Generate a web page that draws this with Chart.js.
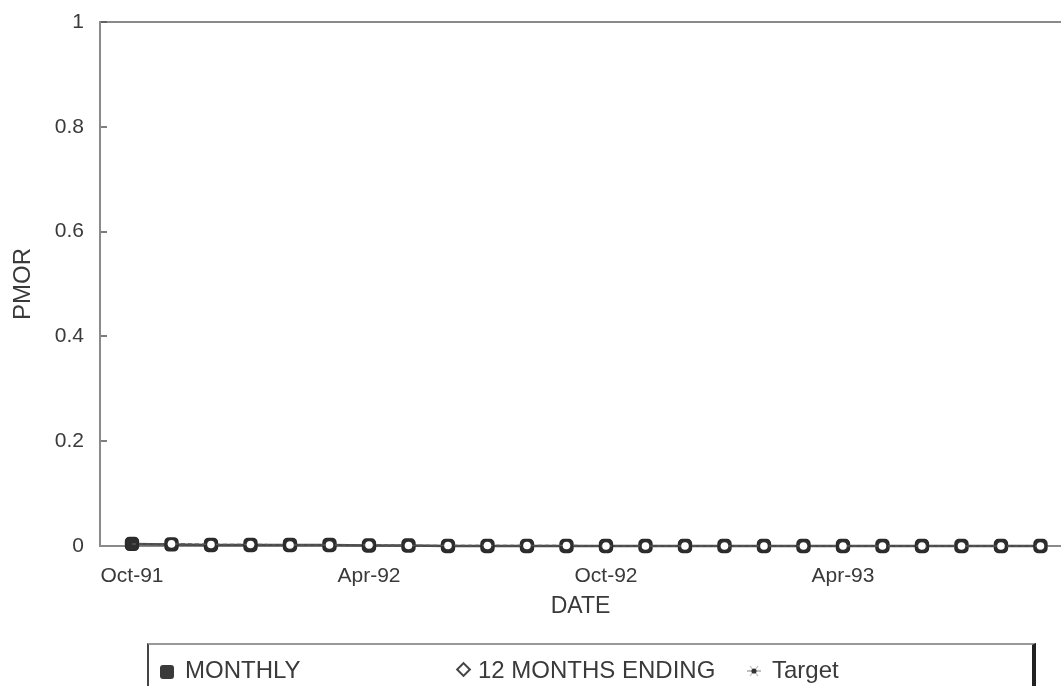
<!DOCTYPE html>
<html>
<head>
<meta charset="utf-8">
<script src="https://cdn.jsdelivr.net/npm/chart.js@4.4.1/dist/chart.umd.min.js"></script>
<style>
  html, body { margin: 0; padding: 0; background: #fff; }
  #wrap { position: relative; width: 1061px; height: 686px; overflow: hidden; }
  canvas { position: absolute; left: 0; top: 0; }
  #legend {
    position: absolute; left: 147px; top: 643px; width: 883px; height: 60px;
    border-top: 2px solid #999; border-left: 2px solid #444; border-right: 4px solid #222;
    font-family: "Liberation Sans", Arial, sans-serif; font-size: 24px; color: #3a3a3a;
  }
  .item { position: absolute; top: 12px; white-space: nowrap; line-height: 26px; }
  .sq { display: inline-block; width: 14px; height: 14px; background: #3a3a3a; border-radius: 3px; vertical-align: -1px; margin-right: 11px; }
  .dia { display: inline-block; width: 7px; height: 7px; border: 2px solid #444; background: #fff; transform: rotate(45deg); vertical-align: 3px; margin-right: 9px; margin-left: 2px; }
  .tg { display: inline-block; vertical-align: 0px; margin-right: 10px; }
</style>
</head>
<body>
<div id="wrap">
  <canvas id="c" width="1061" height="686"></canvas>
  <div id="legend">
    <div class="item" style="left:11px"><span class="sq"></span>MONTHLY</div>
    <div class="item" style="left:307px"><span class="dia"></span>12 MONTHS ENDING</div>
    <div class="item" style="left:597px"><svg class="tg" width="16" height="14" viewBox="0 0 16 14"><line x1="1" y1="7" x2="15" y2="7" stroke="#aaa" stroke-width="1.5"/><line x1="4" y1="2" x2="12" y2="12" stroke="#bbb" stroke-width="1.2"/><line x1="12" y1="2" x2="4" y2="12" stroke="#bbb" stroke-width="1.2"/><circle cx="8" cy="7" r="2.6" fill="#333"/></svg>Target</div>
  </div>
</div>
<script>
// ---- data ----
const months = ["Oct-91","Nov-91","Dec-91","Jan-92","Feb-92","Mar-92","Apr-92","May-92","Jun-92","Jul-92","Aug-92","Sep-92",
                "Oct-92","Nov-92","Dec-92","Jan-93","Feb-93","Mar-93","Apr-93","May-93","Jun-93","Jul-93","Aug-93","Sep-93"];
const monthlyValues = [0.004,0.003,0.002,0.002,0.002,0.002,0.001,0.001,0,0,0,0,0,0,0,0,0,0,0,0,0,0,0,0];
const twelveMonthValues = [0.004,0.004,0.003,0.003,0.002,0.002,0.002,0.001,0.001,0.001,0.001,0.001,0,0,0,0,0,0,0,0,0,0,0,0];
const targetValues = [];
const xTickPositions = [0, 6, 12, 18];
const yTickValues = [0, 0.2, 0.4, 0.6, 0.8, 1];

const toPoints = arr => arr.map((v, i) => ({ x: i, y: v }));
const txt = '#3a3a3a';
const font = "'Liberation Sans', Arial, sans-serif";

new Chart(document.getElementById('c'), {
  type: 'line',
  data: {
    datasets: [
      {
        label: 'MONTHLY',
        data: toPoints(monthlyValues),
        order: 1,
        borderColor: '#4a4a4a',
        borderWidth: 2.5,
        pointStyle: 'rectRounded',
        pointRadius: 7.5,
        pointBorderWidth: 1.5,
        pointBorderColor: '#2a2a2a',
        pointBackgroundColor: '#2e2e2e',
        clip: false
      },
      {
        label: '12 MONTHS ENDING',
        data: toPoints(twelveMonthValues),
        order: 0,
        borderColor: '#555',
        borderWidth: 1.5,
        borderDash: [4, 3],
        pointStyle: 'circle',
        pointRadius: ctx => ctx.dataIndex === 0 ? 0 : 3.8,
        pointBorderWidth: 0,
        pointBorderColor: '#fff',
        pointBackgroundColor: '#fff',
        clip: false
      },
      {
        label: 'Target',
        data: toPoints(targetValues),
        order: 2,
        borderColor: '#999',
        pointStyle: 'star',
        showLine: false,
        clip: false
      }
    ]
  },
  options: {
    responsive: false,
    animation: false,
    events: [],
    layout: { autoPadding: false, padding: { top: 22, left: 0, right: 0, bottom: 0 } },
    plugins: { legend: { display: false }, tooltip: { enabled: false } },
    scales: {
      x: {
        type: 'linear',
        position: 'bottom',
        min: -0.81,
        max: 23.52,
        afterFit: s => { s.height = 140; s.paddingLeft = 0; s.paddingRight = 0; },
        afterBuildTicks: s => { s.ticks = xTickPositions.map(v => ({ value: v })); },
        grid: { display: true, drawOnChartArea: false, drawTicks: false },
        border: { display: true, color: '#8a8a8a', width: 2 },
        ticks: {
          autoSkip: false, maxRotation: 0,
          padding: 18,
          color: txt,
          font: { family: font, size: 21 },
          callback: v => months[v] ?? ''
        },
        title: {
          display: true, text: 'DATE', color: txt,
          font: { family: font, size: 23 },
          padding: { top: 0, bottom: 66 }
        }
      },
      y: {
        min: 0, max: 1,
        afterFit: s => { s.width = 100; s.paddingTop = 0; s.paddingBottom = 0; },
        afterBuildTicks: s => { s.ticks = yTickValues.map(v => ({ value: v })); },
        grid: {
          drawOnChartArea: true,
          drawTicks: true,
          tickLength: -7,
          lineWidth: 2,
          color: ctx => (ctx.tick && ctx.tick.value === 1) ? '#8a8a8a' : 'rgba(0,0,0,0)',
          tickColor: ctx => (ctx.tick && ctx.tick.value === 0) ? 'rgba(0,0,0,0)' : '#555',
          tickWidth: 1.5
        },
        border: { display: true, color: '#8a8a8a', width: 2 },
        ticks: {
          padding: 23,
          color: txt,
          font: { family: font, size: 21 },
          callback: v => String(v)
        },
        title: {
          display: true, text: 'PMOR', color: txt,
          font: { family: font, size: 24 },
          padding: { top: 9, bottom: 0 }
        }
      }
    }
  }
});
</script>
</body>
</html>
